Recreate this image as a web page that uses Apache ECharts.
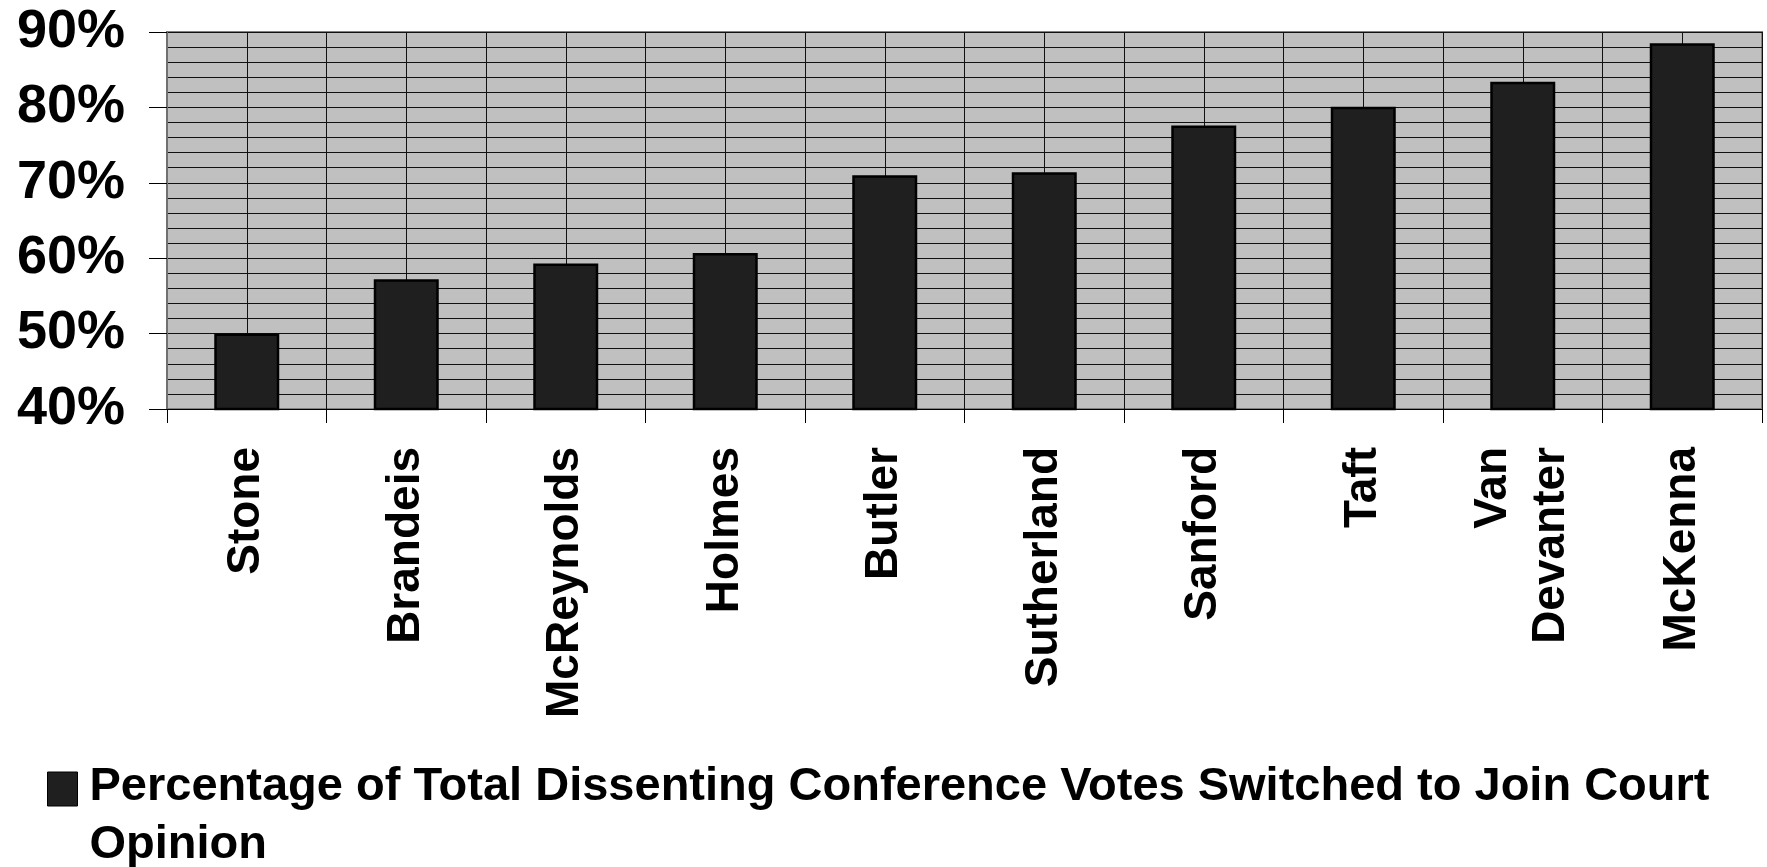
<!DOCTYPE html>
<html>
<head>
<meta charset="utf-8">
<script src="https://cdn.jsdelivr.net/npm/echarts@6/dist/echarts.min.js"></script>
<style>
html,body{margin:0;padding:0;background:#fff;}
#chart{width:1767px;height:867px;}
</style>
</head>
<body>
<div id="chart"></div>
<script>
const categories = ['Stone', 'Brandeis', 'McReynolds', 'Holmes', 'Butler', 'Sutherland', 'Sanford', 'Taft', 'Van\nDevanter', 'McKenna'];
const values = [50.0, 57.2, 59.3, 60.7, 71.0, 71.4, 77.6, 80.1, 83.4, 88.5];
const seriesName = 'Percentage of Total Dissenting Conference Votes Switched to Join Court Opinion';
const yTicks = { min: 40, max: 90, interval: 10 };

const font = '"Liberation Sans", Arial, Helvetica, sans-serif';
const chart = echarts.init(document.getElementById('chart'), null, { renderer: 'canvas' });
chart.setOption({
  animation: false,
  backgroundColor: '#ffffff',
  grid: {
    left: 167, right: 5, top: 32, bottom: 458,
    show: true, backgroundColor: '#c0c0c0', borderColor: '#808080', borderWidth: 2
  },
  legend: {
    show: true,
    left: 47, top: 758, padding: 0,
    itemWidth: 37, itemHeight: 88,
    icon: 'path://M0,0H30V34H0Z M37,88L37,88Z',
    itemStyle: { borderWidth: 1, borderColor: '#000' },
    data: [seriesName],
    textStyle: {
      fontFamily: font, fontWeight: 'bold', fontSize: 47, color: '#000',
      width: 1676, overflow: 'break', lineHeight: 58
    }
  },
  xAxis: [{
    type: 'category',
    data: categories,
    boundaryGap: true,
    axisLine: { show: true, lineStyle: { color: '#000', width: 1 } },
    axisTick: { show: true, length: 14, inside: false, lineStyle: { color: '#000', width: 1 } },
    splitLine: { show: false },
    axisLabel: {
      rotate: 90, margin: 38, interval: 0,
      fontFamily: font, fontWeight: 'bold', fontSize: 46, color: '#000', lineHeight: 58
    }
  }, {
    type: 'value',
    position: 'top',
    min: 0, max: 20, interval: 1,
    axisLine: { show: false }, axisTick: { show: false }, axisLabel: { show: false },
    splitLine: { show: true, lineStyle: { color: '#111', width: 1 } }
  }],
  yAxis: {
    type: 'value',
    min: yTicks.min, max: yTicks.max, interval: yTicks.interval,
    axisLine: { show: true, lineStyle: { color: '#707070', width: 2 } },
    axisTick: { show: true, length: 18, inside: false, lineStyle: { color: '#000', width: 1 } },
    axisLabel: {
      margin: 42, formatter: '{value}%',
      fontFamily: font, fontWeight: 'bold', fontSize: 54, color: '#000'
    },
    splitLine: { show: true, lineStyle: { color: '#111', width: 1 } },
    minorTick: { show: false, splitNumber: 5 },
    minorSplitLine: { show: true, lineStyle: { color: '#111', width: 1 } }
  },
  series: [{
    name: seriesName,
    type: 'bar',
    xAxisIndex: 0,
    data: values,
    barWidth: 65,
    itemStyle: { color: '#1f1f1f', borderColor: '#000', borderWidth: 2.5 }
  }]
});
</script>
</body>
</html>
